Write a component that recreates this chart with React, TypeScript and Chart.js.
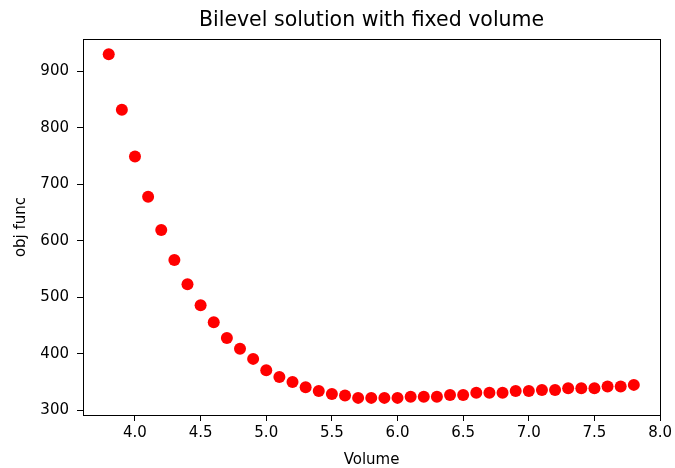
import React, { useEffect, useRef } from "react";
import { Chart, registerables } from "chart.js";

Chart.register(...registerables);

const TITLE = "Bilevel solution with fixed volume";
const X_LABEL = "Volume";
const Y_LABEL = "obj func";

const volumes = [
  3.8, 3.9, 4.0, 4.1, 4.2, 4.3, 4.4, 4.5, 4.6, 4.7, 4.8, 4.9, 5.0, 5.1, 5.2, 5.3, 5.4, 5.5, 5.6, 5.7, 5.8,
  5.9, 6.0, 6.1, 6.2, 6.3, 6.4, 6.5, 6.6, 6.7, 6.8, 6.9, 7.0, 7.1, 7.2, 7.3, 7.4, 7.5, 7.6, 7.7, 7.8,
];
const objFunc = [
  930, 832, 749, 678, 619, 566, 523, 486, 456, 428, 409, 391, 371, 359, 350, 341, 334, 329, 326, 322, 322,
  322, 322, 324, 324, 324, 327, 327, 331, 331, 331, 334, 334, 336, 336, 339, 339, 339, 342, 342, 345,
];
const xTicks = [4.0, 4.5, 5.0, 5.5, 6.0, 6.5, 7.0, 7.5, 8.0];
const yTicks = [300, 400, 500, 600, 700, 800, 900];

const FONT = "'DejaVu Sans', sans-serif";

export default function App() {
  const ref = useRef<HTMLCanvasElement | null>(null);

  useEffect(() => {
    if (!ref.current) return;
    const framePlugin = {
      id: "frameAndTitle",
      afterDraw(chart: any) {
        const { ctx, chartArea } = chart;
        ctx.save();
        ctx.strokeStyle = "#000";
        ctx.lineWidth = 1;
        const l = Math.round(chartArea.left) + 0.5;
        const t = Math.round(chartArea.top) + 0.5;
        const r = Math.round(chartArea.right) + 0.5;
        const b = Math.round(chartArea.bottom) + 0.5;
        ctx.strokeRect(l, t, r - l, b - t);
        ctx.fillStyle = "#000";
        ctx.font = `20.5px ${FONT}`;
        ctx.textAlign = "center";
        ctx.textBaseline = "alphabetic";
        ctx.fillText(TITLE, (chartArea.left + chartArea.right) / 2, 25.5);
        ctx.restore();
      },
    };

    const chart = new Chart(ref.current, {
      type: "scatter",
      data: {
        datasets: [
          {
            data: volumes.map((v, i) => ({ x: v, y: objFunc[i] })),
            backgroundColor: "#ff0000",
            borderWidth: 0,
            pointRadius: 6,
            pointHoverRadius: 6,
          },
        ],
      },
      options: {
        animation: false,
        responsive: false,
        maintainAspectRatio: false,
        layout: { padding: { top: 39, right: 10, left: 0, bottom: 0 } },
        plugins: {
          legend: { display: false },
          title: { display: false },
          tooltip: { enabled: false },
        },
        scales: {
          x: {
            type: "linear",
            min: 3.604,
            max: 8.0,
            afterFit(scale: any) {
              scale.height = 53;
            },
            afterBuildTicks(scale: any) {
              scale.ticks = xTicks.map((v) => ({ value: v }));
            },
            border: { display: false },
            grid: { drawOnChartArea: false, drawTicks: true, tickLength: 6, color: "#000", lineWidth: 1 },
            ticks: {
              padding: 3,
              color: "#000",
              font: { family: FONT, size: 15 },
              maxRotation: 0,
              autoSkip: false,
              callback: (v: any) => Number(v).toFixed(1),
            },
            title: {
              display: true,
              text: X_LABEL,
              color: "#000",
              font: { family: FONT, size: 15, lineHeight: 1 },
              padding: { top: 0, bottom: 0 },
            },
          },
          y: {
            type: "linear",
            min: 291.7,
            max: 957,
            afterFit(scale: any) {
              scale.width = 83;
            },
            afterBuildTicks(scale: any) {
              scale.ticks = yTicks.map((v) => ({ value: v }));
            },
            border: { display: false },
            grid: { drawOnChartArea: false, drawTicks: true, tickLength: 6, color: "#000", lineWidth: 1 },
            ticks: {
              padding: 8,
              color: "#000",
              font: { family: FONT, size: 15 },
              autoSkip: false,
              callback: (v: any) => String(v),
            },
            title: {
              display: true,
              text: Y_LABEL,
              color: "#000",
              font: { family: FONT, size: 15 },
              padding: { top: 12, bottom: 0 },
            },
          },
        },
      },
      plugins: [framePlugin],
    });
    return () => chart.destroy();
  }, []);

  return (
    <div style={{ position: "absolute", left: 0, top: 0, width: 675, height: 468, background: "#fff" }}>
      <canvas ref={ref} width={675} height={468} style={{ width: 675, height: 468, display: "block" }} />
    </div>
  );
}
